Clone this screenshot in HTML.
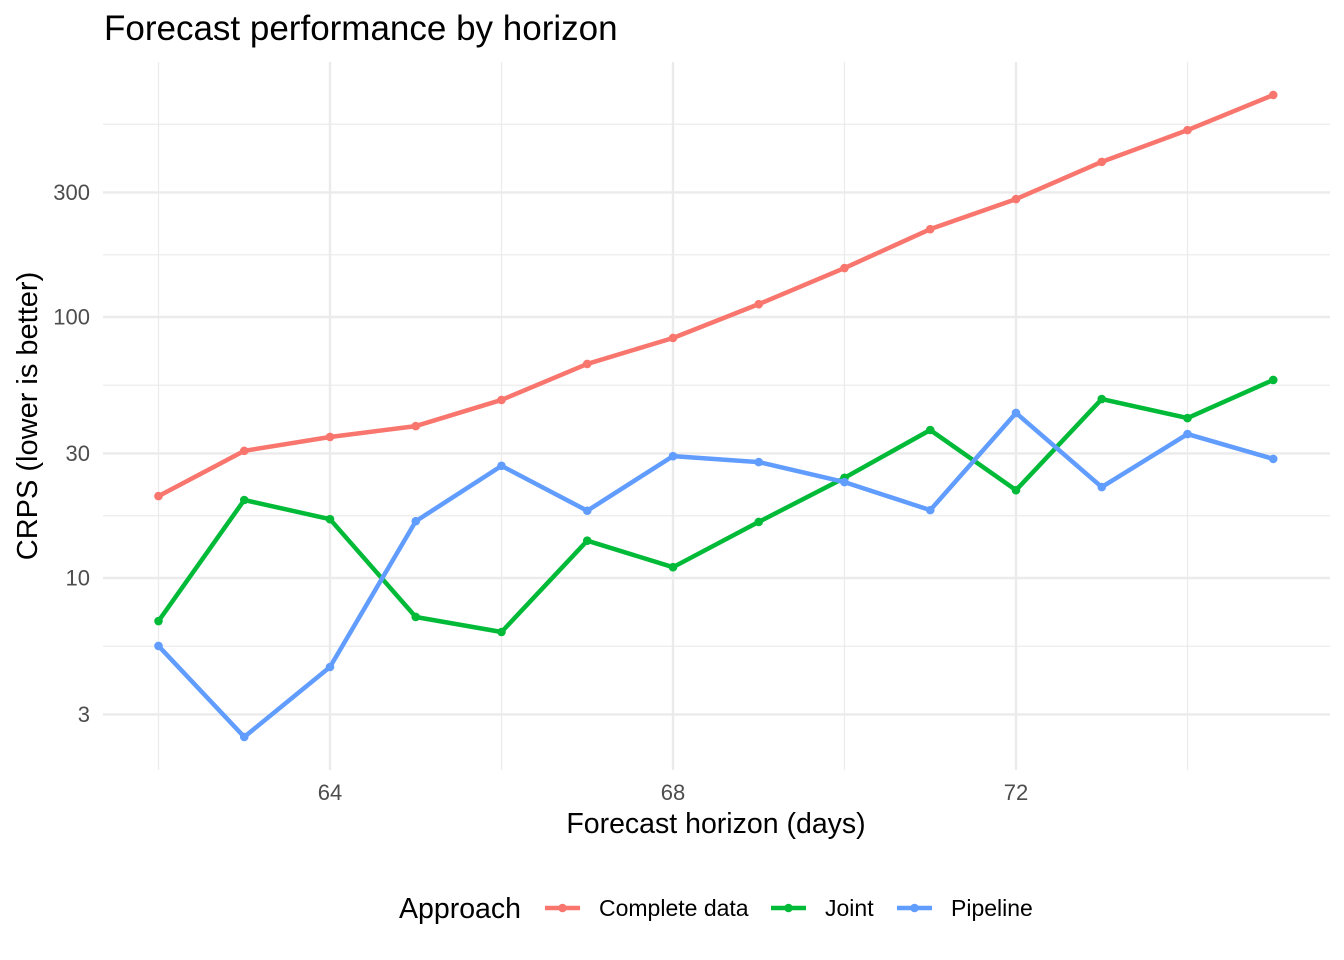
<!DOCTYPE html>
<html><head><meta charset="utf-8"><style>
body{margin:0;background:#fff;}
svg{display:block;font-family:"Liberation Sans",sans-serif;}
</style></head><body>
<svg id="chart" width="1344" height="960" viewBox="0 0 1344 960">
<rect width="1344" height="960" fill="#fff"/>
<g id="grid"></g>
<g id="series"></g>
<g id="axes"></g>
<text x="104" y="40" font-size="35" fill="#000">Forecast performance by horizon</text>
<text x="716" y="833" font-size="28.5" text-anchor="middle" fill="#000">Forecast horizon (days)</text>
<text transform="translate(37,416) rotate(-90)" font-size="29" text-anchor="middle" fill="#000">CRPS (lower is better)</text>
<g id="legend"></g>
</svg>
<script>
const days = [62,63,64,65,66,67,68,69,70,71,72,73,74,75];
const completeData = [20.6,30.7,34.7,38.2,48.1,66.1,83.1,112,154,217,283,393,520,709];
const joint = [6.84,19.9,16.8,7.09,6.21,13.9,11.0,16.4,24.2,36.9,21.7,48.5,41.0,57.4];
const pipeline = [5.49,2.46,4.56,16.5,26.9,18.1,29.3,27.8,23.3,18.2,42.9,22.3,35.6,28.6];
const xTicks = [64,68,72];
const xMinor = [62,66,70,74];
const yTicks = [3,10,30,100,300];
const yTickLabels = ["3","10","30","100","300"];
const seriesNames = ["Complete data","Joint","Pipeline"];
const seriesColors = ["#F8766D","#00BA38","#619CFF"];

const NS="http://www.w3.org/2000/svg";
const X = d => 330 + (d-64)*85.75;
const Y = v => 317 - (Math.log10(v)-2)*261;
function mk(tag, attrs, parent){const e=document.createElementNS(NS,tag);for(const k in attrs)e.setAttribute(k,attrs[k]);parent.appendChild(e);return e;}
const grid=document.getElementById('grid'), axes=document.getElementById('axes'), ser=document.getElementById('series'), leg=document.getElementById('legend');
const L=103,R=1330,T=62,B=770;
const ly=yTicks.map(v=>Math.log10(v));
const minorY=[];
for(let i=0;i<ly.length-1;i++)minorY.push((ly[i]+ly[i+1])/2);
minorY.push(ly[0]-(ly[1]-ly[0])/2);
minorY.push(ly[ly.length-1]+(3-ly[ly.length-1])/2);
minorY.forEach(l=>{const y=Y(Math.pow(10,l));if(y>T&&y<B){const e=mk('line',{x1:L,x2:R,y1:y,y2:y,stroke:'#ebebeb','stroke-width':1.2},grid);

}});
xMinor.forEach(d=>{const e=mk('line',{x1:X(d),x2:X(d),y1:T,y2:B,stroke:'#ebebeb','stroke-width':1.2},grid);

});
yTicks.forEach((v,i)=>{const e=mk('line',{x1:L,x2:R,y1:Y(v),y2:Y(v),stroke:'#ebebeb','stroke-width':2.4},grid);


const t=mk('text',{x:90,y:Y(v)+7.5,'font-size':22,'text-anchor':'end',fill:'#4d4d4d'},axes);t.textContent=yTickLabels[i];

});
xTicks.forEach(d=>{const e=mk('line',{x1:X(d),x2:X(d),y1:T,y2:B,stroke:'#ebebeb','stroke-width':2.4},grid);


const t=mk('text',{x:X(d),y:800,'font-size':22,'text-anchor':'middle',fill:'#4d4d4d'},axes);t.textContent=d;

});
[completeData,joint,pipeline].forEach((vals,si)=>{
  const g=mk('g',{},ser);
  
  
  const p=mk('polyline',{points:vals.map((v,i)=>X(days[i])+','+Y(v)).join(' '),fill:'none',stroke:seriesColors[si],'stroke-width':4.5,'stroke-linejoin':'round'},g);
  
  
  vals.forEach((v,i)=>{const c=mk('circle',{cx:X(days[i]),cy:Y(v),r:4.3,fill:seriesColors[si]},g);
  
  });
});
const lt=mk('text',{x:399,y:918,'font-size':28.5,fill:'#000'},leg);lt.textContent='Approach';


const lx=[545,771,897];
seriesNames.forEach((n,i)=>{
  const g=mk('g',{},leg);
  
  
  mk('line',{x1:lx[i],x2:lx[i]+35,y1:908,y2:908,stroke:seriesColors[i],'stroke-width':4.5},g);
  mk('circle',{cx:lx[i]+17.5,cy:908,r:4.3,fill:seriesColors[i]},g);
  const t=mk('text',{x:lx[i]+54,y:916,'font-size':23,fill:'#000'},g);t.textContent=n;
});
</script>
</body></html>
